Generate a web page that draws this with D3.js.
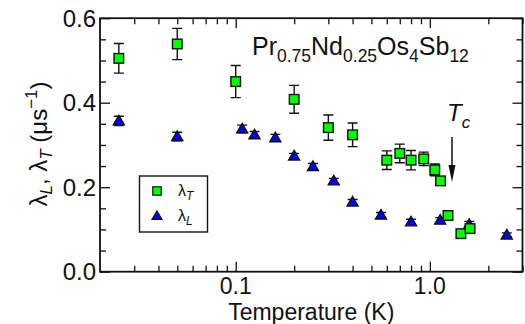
<!DOCTYPE html>
<html>
<head>
<meta charset="utf-8">
<script src="https://cdn.jsdelivr.net/npm/d3@7"></script>
<style>
  html, body { margin: 0; padding: 0; background: #fff; }
  svg { display: block; font-family: "Liberation Sans", Arial, Helvetica, sans-serif; }
</style>
</head>
<body>
<svg id="chart" width="525" height="324"></svg>
<script>
// Transverse relaxation rate λT (green squares)
const tempT = [0.025, 0.05, 0.1, 0.2, 0.3, 0.4, 0.6, 0.7, 0.8, 0.93, 1.06, 1.135, 1.24, 1.445, 1.61];
const lambdaT = [0.505, 0.539, 0.450, 0.408, 0.341, 0.324, 0.264, 0.280, 0.264, 0.267, 0.241, 0.215, 0.133, 0.090, 0.102];
const errT = [0.035, 0.037, 0.038, 0.033, 0.030, 0.028, 0.022, 0.022, 0.023, 0.016, 0.014, 0.008, 0.009, 0.006, 0.008];

// Longitudinal relaxation rate λL (blue triangles)
const tempL = [0.025, 0.05, 0.108, 0.125, 0.16, 0.2, 0.25, 0.32, 0.4, 0.56, 0.80, 1.13, 1.595, 2.49];
const lambdaL = [0.357, 0.320, 0.338, 0.324, 0.317, 0.274, 0.249, 0.215, 0.165, 0.134, 0.118, 0.122, 0.112, 0.087];
const errL = [0.011, 0.010, 0.009, 0.008, 0.008, 0.006, 0.007, 0.006, 0.006, 0.006, 0.006, 0.006, 0.007, 0.005];

// Axis ticks
const xMajor = [0.1, 1.0];
const xMajorLabels = ["0.1", "1.0"];
const xMinor = [0.03, 0.04, 0.05, 0.06, 0.07, 0.08, 0.09, 0.2, 0.3, 0.4, 0.5, 0.6, 0.7, 0.8, 0.9, 2, 3];
const yMajor = [0.0, 0.2, 0.4, 0.6];
const yMajorLabels = ["0.0", "0.2", "0.4", "0.6"];
const yMinor = [0.05, 0.1, 0.15, 0.25, 0.3, 0.35, 0.45, 0.5, 0.55];

const Tc = 1.3;

const svg = d3.select("#chart");
const m = { left: 100, right: 2.5, top: 18.2, bottom: 52.3 };
const W = 525, H = 324;
const x = d3.scaleLog().domain([0.02, 3]).range([m.left, W - m.right]);
const y = d3.scaleLinear().domain([0, 0.6]).range([H - m.bottom, m.top]);
const x0 = x.range()[0], x1 = x.range()[1], y0 = y.range()[0], y1 = y.range()[1];

const ink = "#111";
const fs = 24;

// Ticks on all four sides, pointing inwards
const axBottom = d3.axisBottom(x).tickValues(xMajor).tickSizeInner(-10).tickSizeOuter(0).tickFormat("");
const axBottomMinor = d3.axisBottom(x).tickValues(xMinor).tickSizeInner(-6).tickSizeOuter(0).tickFormat("");
const axTop = d3.axisTop(x).tickValues(xMajor).tickSizeInner(-10).tickSizeOuter(0).tickFormat("");
const axTopMinor = d3.axisTop(x).tickValues(xMinor).tickSizeInner(-6).tickSizeOuter(0).tickFormat("");
const axLeft = d3.axisLeft(y).tickValues(yMajor).tickSizeInner(-10).tickSizeOuter(0).tickFormat("");
const axLeftMinor = d3.axisLeft(y).tickValues(yMinor).tickSizeInner(-6).tickSizeOuter(0).tickFormat("");
const axRight = d3.axisRight(y).tickValues(yMajor).tickSizeInner(-10).tickSizeOuter(0).tickFormat("");
const axRightMinor = d3.axisRight(y).tickValues(yMinor).tickSizeInner(-6).tickSizeOuter(0).tickFormat("");

const axes = svg.append("g");
[[axBottom, `translate(0,${y0})`], [axBottomMinor, `translate(0,${y0})`],
 [axTop, `translate(0,${y1})`], [axTopMinor, `translate(0,${y1})`],
 [axLeft, `translate(${x0},0)`], [axLeftMinor, `translate(${x0},0)`],
 [axRight, `translate(${x1},0)`], [axRightMinor, `translate(${x1},0)`]].forEach(([ax, tr]) => {
  const g = axes.append("g").attr("transform", tr).call(ax);
  g.select(".domain").remove();
  g.selectAll("line").attr("stroke", ink).attr("stroke-width", 1.3);
});

// Frame
svg.append("rect").attr("x", x0).attr("y", y1).attr("width", x1 - x0).attr("height", y0 - y1)
  .attr("fill", "none").attr("stroke", ink).attr("stroke-width", 1.8);

// Tick labels
svg.append("g").selectAll("text").data(xMajor).join("text")
  .attr("x", d => x(d)).attr("y", 293.5).attr("text-anchor", "middle")
  .attr("font-size", 23).attr("fill", ink).text((d, i) => xMajorLabels[i]);
svg.append("g").selectAll("text").data(yMajor).join("text")
  .attr("x", x0 - 4).attr("y", d => y(d) + 8.5).attr("text-anchor", "end")
  .attr("font-size", fs).attr("fill", ink).text((d, i) => yMajorLabels[i]);

// Axis titles
svg.append("text").attr("x", (x0 + x1) / 2).attr("y", 319.5).attr("text-anchor", "middle")
  .attr("font-size", 23).attr("fill", ink).text("Temperature (K)");

const yt = svg.append("text").attr("transform", "translate(47,144) rotate(-90)")
  .attr("text-anchor", "middle").attr("font-size", fs).attr("fill", ink);
yt.append("tspan").text("λ");
yt.append("tspan").attr("font-size", 17).attr("font-style", "italic").attr("dy", 5).text("L");
yt.append("tspan").attr("dy", -5).text(", λ");
yt.append("tspan").attr("font-size", 17).attr("font-style", "italic").attr("dy", 5).text("T");
yt.append("tspan").attr("dy", -5).text(" (μs");
yt.append("tspan").attr("font-size", 17).attr("dy", -10).text("−1");
yt.append("tspan").attr("dy", 10).text(")");

// Compound formula
const tt = svg.append("text").attr("x", 252).attr("y", 55).attr("font-size", 25).attr("fill", ink);
[["Pr", false], ["0.75", true], ["Nd", false], ["0.25", true], ["Os", false], ["4", true], ["Sb", false], ["12", true]]
  .forEach(([s, sub], i, arr) => {
    const prevSub = i > 0 && arr[i - 1][1];
    const dy = sub ? 7 : (prevSub ? -7 : 0);
    const t = tt.append("tspan").attr("dy", dy).text(s);
    if (sub) t.attr("font-size", 17.5);
  });

// Tc marker
const tc = svg.append("text").attr("x", 447).attr("y", 121).attr("font-size", fs).attr("fill", ink)
  .attr("font-style", "italic");
tc.append("tspan").text("T");
tc.append("tspan").attr("font-size", 17).attr("dy", 7).text("c");
svg.append("line").attr("x1", x(Tc)).attr("x2", x(Tc)).attr("y1", 137).attr("y2", 170)
  .attr("stroke", ink).attr("stroke-width", 1.5);
svg.append("path")
  .attr("d", `M${x(Tc) - 3.5},165 L${x(Tc) + 3.5},165 L${x(Tc)},182 Z`)
  .attr("fill", ink);

// Error bars
function errorBars(g, temps, vals, errs) {
  const d = temps.map((t, i) => ({ t, v: vals[i], e: errs[i] }));
  g.selectAll(".eb").data(d).join("path")
    .attr("fill", "none").attr("stroke", ink).attr("stroke-width", 1.4)
    .attr("d", p => {
      const cx = x(p.t), a = y(p.v + p.e), b = y(p.v - p.e);
      return `M${cx},${a}V${b}M${cx - 5},${a}H${cx + 5}M${cx - 5},${b}H${cx + 5}`;
    });
}

const gL = svg.append("g");
errorBars(gL, tempL, lambdaL, errL);
gL.selectAll("path.tri").data(tempL).join("path").attr("class", "tri")
  .attr("d", (t, i) => {
    const cx = x(t), cy = y(lambdaL[i]);
    return `M${cx},${cy - 5.5}L${cx + 5.5},${cy + 4}L${cx - 5.5},${cy + 4}Z`;
  })
  .attr("fill", "#0000ff").attr("stroke", ink).attr("stroke-width", 1.4).attr("stroke-linejoin", "miter");

const gT = svg.append("g");
errorBars(gT, tempT, lambdaT, errT);
gT.selectAll("rect.sq").data(tempT).join("rect").attr("class", "sq")
  .attr("x", t => x(t) - 4.8).attr("y", (t, i) => y(lambdaT[i]) - 4.8)
  .attr("width", 9.6).attr("height", 9.6)
  .attr("fill", "#00ff00").attr("stroke", ink).attr("stroke-width", 1.4);

// Legend
const lg = svg.append("g");
lg.append("rect").attr("x", 139.5).attr("y", 176).attr("width", 68).attr("height", 56)
  .attr("fill", "#fff").attr("stroke", ink).attr("stroke-width", 1.4);
lg.append("rect").attr("x", 157 - 4.2).attr("y", 191 - 4.2).attr("width", 8.4).attr("height", 8.4)
  .attr("fill", "#00ff00").attr("stroke", ink).attr("stroke-width", 1.2);
lg.append("path").attr("d", "M157,211L162,219.5L152,219.5Z")
  .attr("fill", "#0000ff").attr("stroke", ink).attr("stroke-width", 1.2);
[["T", 196], ["L", 221]].forEach(([s, by]) => {
  const t = lg.append("text").attr("x", 178).attr("y", by).attr("font-size", 16).attr("fill", ink);
  t.append("tspan").text("λ");
  t.append("tspan").attr("font-size", 12).attr("font-style", "italic").attr("dy", 4).text(s);
});
</script>
</body>
</html>
